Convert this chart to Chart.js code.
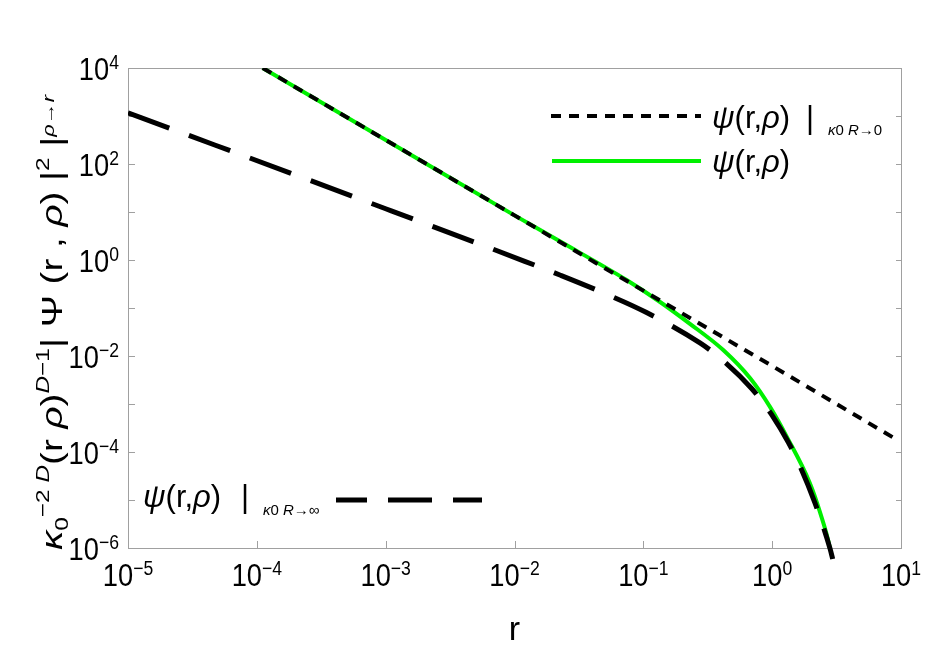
<!DOCTYPE html>
<html>
<head>
<meta charset="utf-8">
<script src="https://cdn.jsdelivr.net/npm/chart.js@4"></script>
<style>html,body{margin:0;padding:0;background:#fff}</style>
</head>
<body>
<canvas id="psiChart" width="926" height="653"></canvas>
<script>
// values (log-log)
const xTickExps = [-5, -4, -3, -2, -1, 0, 1];
const yTickExps = [-6, -5, -4, -3, -2, -1, 0, 1, 2, 3, 4];
const yLabelExps = [-6, -4, -2, 0, 2, 4];

// psi | kappa0 R -> 0 (dotted)
const smallRX = [1.11e-4, 1e-3, 1e-2, 1e-1, 1, 8.7];
const smallRY = [1e4, 316, 8.5, 0.23, 6.2e-3, 2.0e-4];

// psi | kappa0 R -> inf (long dashes)
const largeRX = [1e-5, 1e-3, 0.012, 0.0225, 0.052, 0.105, 0.275, 0.394, 0.693, 0.906, 1.0, 1.334, 1.596, 2.148, 2.81, 2.95];
const largeRY = [1170, 11.7, 0.94, 0.487, 0.193, 0.0814, 0.0187, 0.0091, 0.0021, 8.4e-4, 5.8e-4, 1.6e-4, 6.1e-5, 8.7e-6, 9.8e-7, 5.9e-7];

// psi full (green)
const fullX = [1.11e-4, 1e-3, 1e-2, 0.0225, 0.0741, 0.134, 0.230, 0.417, 0.673, 0.962, 1.297, 1.963, 2.35, 2.81, 2.84];
const fullY = [1e4, 316, 8.5, 2.45, 0.383, 0.135, 0.0468, 0.0133, 3.47e-3, 8.7e-4, 2.09e-4, 2.24e-5, 5.6e-6, 9.8e-7, 8.2e-7];

const FONT = '"Liberation Sans", Arial, sans-serif';
const pts = (xs, ys) => xs.map((x, i) => ({x: x, y: ys[i]}));

// draws a run of text pieces [text, size, dy, italic]
function rich(ctx, x, y, segs) {
    segs.forEach(([t, size, dy, it]) => {
        ctx.font = (it ? 'italic ' : '') + size + 'px ' + FONT;
        ctx.fillText(t, x, y + dy);
        x += ctx.measureText(t).width;
    });
    return x;
}
function richWidth(ctx, segs) {
    let w = 0;
    segs.forEach(([t, size, dy, it]) => {
        ctx.font = (it ? 'italic ' : '') + size + 'px ' + FONT;
        w += ctx.measureText(t).width;
    });
    return w;
}

// "10" with a raised exponent, a bit condensed like the original
const SQ = 0.88;
function powLabel(ctx, e, x, y, align) {
    const sup = String(e).replace('-', '\u2212');
    const segs = [['10', 31, 0, false], [sup, 20, -11, false]];
    const w = richWidth(ctx, segs) * SQ;
    const x0 = align === 'right' ? x - w : x - w / 2;
    ctx.save();
    ctx.translate(x0, y);
    ctx.scale(SQ, 1);
    rich(ctx, 0, 0, segs);
    ctx.restore();
}

const framePlugin = {
    id: 'frame',
    beforeDatasetsDraw(chart) {
        const {ctx, chartArea: a, scales: {x, y}} = chart;
        ctx.save();
        ctx.strokeStyle = '#a0a0a0';
        ctx.lineWidth = 1;
        ctx.strokeRect(Math.round(a.left) + 0.5, Math.round(a.top) + 0.5, Math.round(a.right - a.left), Math.round(a.bottom - a.top));
        ctx.beginPath();
        x.ticks.forEach(t => {
            const px = Math.round(x.getPixelForValue(t.value)) + 0.5;
            ctx.moveTo(px, a.bottom); ctx.lineTo(px, a.bottom - 7);
        });
        y.ticks.forEach(t => {
            const py = Math.round(y.getPixelForValue(t.value)) + 0.5;
            ctx.moveTo(a.left, py); ctx.lineTo(a.left + 7, py);
            ctx.moveTo(a.right, py); ctx.lineTo(a.right - 5, py);
        });
        ctx.stroke();

        // tick labels
        ctx.fillStyle = '#000';
        x.ticks.forEach(t => {
            const e = Math.round(Math.log10(t.value));
            powLabel(ctx, e, x.getPixelForValue(t.value), a.bottom + 38, 'center');
        });
        y.ticks.forEach(t => {
            const e = Math.round(Math.log10(t.value));
            if (yLabelExps.includes(e)) powLabel(ctx, e, a.left - 9, y.getPixelForValue(t.value) + 12, 'right');
        });
        ctx.restore();
    },
    afterDatasetsDraw(chart) {
        const {ctx, chartArea: a} = chart;
        ctx.save();
        ctx.fillStyle = '#000';
        ctx.textBaseline = 'alphabetic';

        // top-right legend
        ctx.lineWidth = 4;
        ctx.strokeStyle = '#000';
        ctx.setLineDash([10, 8]);
        ctx.beginPath(); ctx.moveTo(551, 116); ctx.lineTo(701, 116); ctx.stroke();
        ctx.setLineDash([]);
        ctx.strokeStyle = '#00f000';
        ctx.beginPath(); ctx.moveTo(552, 161); ctx.lineTo(701, 161); ctx.stroke();

        rich(ctx, 712, 128, [['\u03C8', 31, 0, true], ['(r,', 31, 0, false], ['\u03C1', 31, 0, true], [')', 31, 0, false]]);
        rich(ctx, 806, 128, [['|', 31, 0, false]]);
        rich(ctx, 828, 135, [['\u03BA', 15, 0, true], ['0 ', 15, 0, false], ['R', 15, 0, true], ['\u21920', 15, 0, false]]);
        rich(ctx, 712, 172, [['\u03C8', 31, 0, true], ['(r,', 31, 0, false], ['\u03C1', 31, 0, true], [')', 31, 0, false]]);

        // bottom-left legend
        rich(ctx, 143, 507, [['\u03C8', 31, 0, true], ['(r,', 31, 0, false], ['\u03C1', 31, 0, true], [')', 31, 0, false]]);
        rich(ctx, 241, 507, [['|', 31, 0, false]]);
        rich(ctx, 263, 515, [['\u03BA', 15, 0, true], ['0 ', 15, 0, false], ['R', 15, 0, true], ['\u2192\u221E', 15, 0, false]]);
        ctx.strokeStyle = '#000';
        ctx.lineWidth = 5;
        ctx.setLineDash([44, 21]);
        ctx.lineDashOffset = 13;
        ctx.beginPath(); ctx.moveTo(336, 500); ctx.lineTo(482, 500); ctx.stroke();
        ctx.setLineDash([]);

        // x title
        ctx.font = '34px ' + FONT;
        ctx.textAlign = 'center';
        ctx.fillText('r', (a.left + a.right) / 2, 640);
        ctx.textAlign = 'left';

        // y title, rotated
        const segs = [
            ['\u03BA', 30, 0, true], ['0', 19, 6, false], ['\u22122 ', 19, -13, false], ['D', 19, -13, true],
            ['(r ', 30, 0, false], ['\u03C1', 30, 0, true], [')', 30, 0, false],
            ['D', 19, -13, true], ['\u22121', 19, -13, false],
            ['| \u03A8 (r , ', 30, 0, false], ['\u03C1', 30, 0, true], [') |', 30, 0, false],
            ['2', 19, -13, false], [' |', 30, 0, false], ['\u03C1\u2192r', 17, -8, true]
        ];
        const w = richWidth(ctx, segs);
        ctx.translate(62, 550);
        ctx.rotate(-Math.PI / 2);
        ctx.scale(455 / w, 1);
        rich(ctx, 0, 0, segs);
        ctx.restore();
    }
};

const ctx = document.getElementById('psiChart').getContext('2d');
new Chart(ctx, {
    type: 'scatter',
    data: {
        datasets: [{
            label: 'small R',
            data: pts(smallRX, smallRY),
            showLine: true,
            borderColor: '#000',
            borderWidth: 4,
            borderDash: [10, 8],
            pointRadius: 0
        }, {
            label: 'large R',
            data: pts(largeRX, largeRY),
            showLine: true,
            borderColor: '#000',
            borderWidth: 5,
            borderDash: [44, 21],
            cubicInterpolationMode: 'monotone',
            pointRadius: 0,
            clip: {left: 0, top: 0, right: 0, bottom: 12}
        }, {
            label: 'full',
            data: pts(fullX, fullY),
            showLine: true,
            borderColor: '#00f000',
            borderWidth: 4,
            cubicInterpolationMode: 'monotone',
            pointRadius: 0
        }]
    },
    options: {
        responsive: false,
        animation: false,
        layout: {padding: {top: 68, right: 25, left: 0, bottom: 0}},
        plugins: {
            legend: {display: false},
            tooltip: {enabled: false}
        },
        scales: {
            x: {
                type: 'logarithmic',
                min: 1e-5,
                max: 10,
                grid: {display: false},
                border: {display: false},
                afterBuildTicks: s => { s.ticks = xTickExps.map(e => ({value: Math.pow(10, e)})); },
                afterFit: s => { s.height = 105; },
                ticks: {display: false}
            },
            y: {
                type: 'logarithmic',
                min: 1e-6,
                max: 1e4,
                grid: {display: false},
                border: {display: false},
                afterBuildTicks: s => { s.ticks = yTickExps.map(e => ({value: Math.pow(10, e)})); },
                afterFit: s => { s.width = 128; },
                ticks: {display: false}
            }
        }
    },
    plugins: [framePlugin]
});
</script>
</body>
</html>
